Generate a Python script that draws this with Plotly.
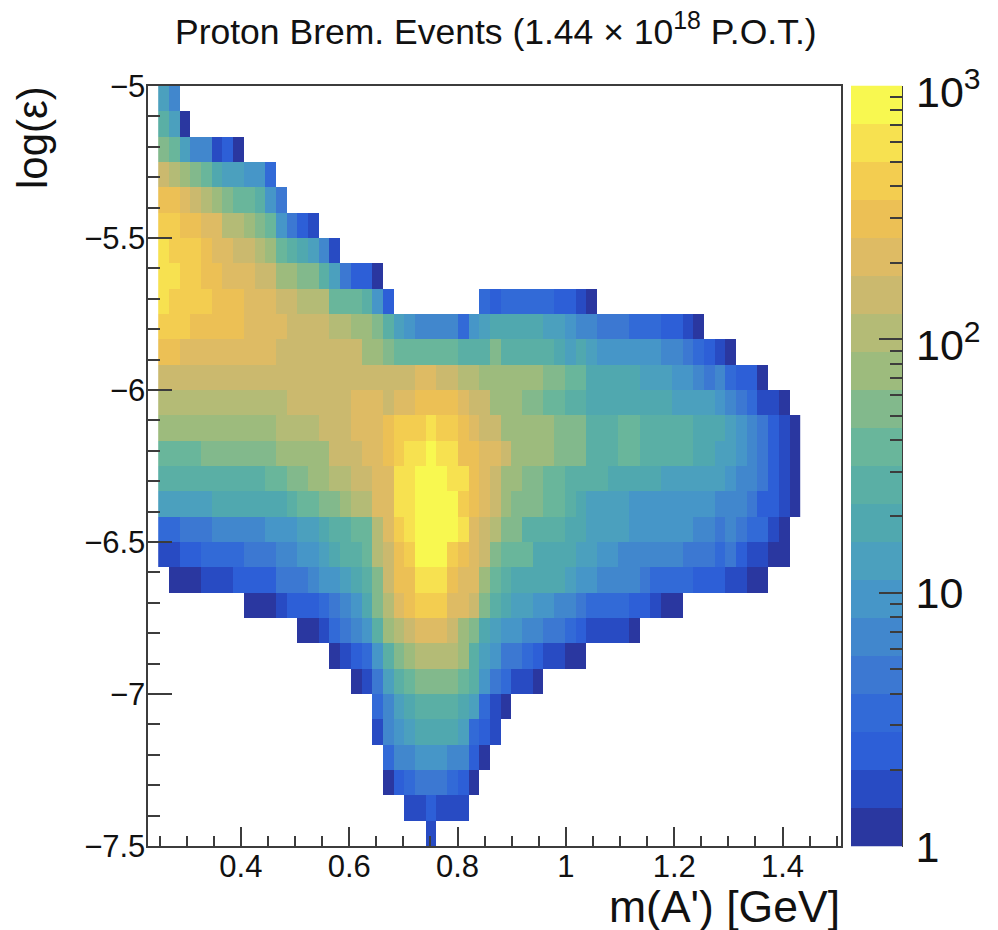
import plotly.graph_objects as go

# Colour band (0-19) of each histogram cell, top row first; each band = 0.15 decades of events
first_col = [1,1,1,1,1,1,1,1,1,1,1,1,1,1,1,1,1,1,1,2,9,14,17,19,21,21,22,22,24,26]
_ = None
row_00 = [7,5]
row_01 = [9,7,0]
row_02 = [11,10,7,5,5,1,2,0]
row_03 = [14,13,12,11,10,8,7,7,6,6,3]
row_04 = [16,16,15,14,13,12,11,10,10,9,6,4]
row_05 = [17,17,16,16,15,15,13,13,12,11,10,6,4,2,1]
row_06 = [18,17,17,17,16,15,15,14,14,13,12,10,9,8,7,5,1]
row_07 = [18,18,17,17,16,16,15,15,15,14,14,12,12,11,11,9,7,4,2,2,0]
row_08 = [18,17,17,17,17,16,16,16,15,15,15,14,14,13,13,13,10,10,10,9,6,2,_,_,_,_,_,_,_,_,3,2,3,3,3,3,3,2,2,1,0]
row_09 = [17,17,17,16,16,16,16,16,15,15,15,15,14,14,14,14,13,13,12,12,11,9,7,6,5,5,5,5,3,6,7,8,8,8,8,8,7,7,6,5,5,4,4,4,3,3,3,2,2,1,0]
row_10 = [16,16,15,15,15,15,15,15,15,15,15,14,14,14,14,14,14,14,14,12,12,11,10,10,10,10,10,10,9,9,9,11,9,9,9,9,9,8,7,8,7,6,6,6,6,6,6,5,5,4,3,2,1,0]
row_11 = [14,14,14,14,14,14,14,14,14,14,14,14,14,14,14,14,14,14,14,14,14,14,14,14,15,15,14,14,13,13,12,12,12,12,12,12,11,11,10,10,8,8,8,8,8,7,7,7,6,6,5,4,5,3,2,2,0]
row_12 = [13,13,13,13,13,13,13,13,13,13,13,13,14,14,14,14,14,14,15,15,15,14,15,15,16,16,16,16,15,14,14,12,12,12,11,11,10,10,9,9,8,8,8,8,8,8,8,8,7,7,7,7,6,5,4,3,1,1,0]
row_13 = [12,12,12,12,12,12,12,12,12,12,12,13,13,13,13,14,14,14,15,15,15,16,17,17,17,18,17,17,16,15,14,14,12,12,12,12,12,11,11,11,9,9,9,10,10,9,9,9,9,9,8,8,8,7,6,5,4,2,1,0]
row_14 = [10,10,10,10,11,11,11,11,11,11,11,12,12,12,12,12,14,14,14,15,15,16,17,18,18,19,18,18,16,16,15,15,14,12,12,12,12,11,11,11,9,9,9,10,10,9,9,9,9,9,8,8,7,7,6,5,4,2,1,0]
row_15 = [9,9,9,9,9,9,9,9,9,9,10,10,11,11,12,12,13,13,14,14,15,15,18,18,19,19,19,18,18,16,15,14,12,12,11,11,10,10,9,9,9,9,8,8,8,8,8,7,7,7,7,7,7,6,5,5,4,2,1,0]
row_16 = [7,7,7,7,7,8,8,8,8,8,8,8,9,10,10,11,11,12,13,13,15,15,18,18,19,19,19,19,17,16,15,14,12,11,11,11,10,10,9,8,7,7,7,7,6,6,6,6,6,6,6,6,5,5,5,4,2,2,1,0]
row_17 = [3,3,4,4,4,5,5,5,5,5,6,6,6,7,7,8,9,9,10,10,13,15,17,18,19,19,19,19,18,15,14,13,11,11,9,9,9,9,8,8,7,7,7,7,6,6,6,6,6,6,5,5,4,5,4,3,3,1,0]
row_18 = [1,1,2,2,3,3,3,3,4,4,4,5,5,6,6,7,8,9,9,10,13,14,16,17,19,19,19,17,16,15,14,11,10,10,10,8,8,8,8,7,7,6,6,5,5,5,5,5,5,4,4,4,3,4,2,1,1,0,0]
row_19 = [0,0,0,1,1,1,2,2,2,2,4,4,4,5,6,6,7,8,9,11,14,16,16,18,18,18,16,15,15,12,10,9,8,8,8,8,8,7,6,6,5,5,5,5,4,3,3,3,3,2,2,2,1,1,0,0]
row_20 = [0,0,0,1,2,2,2,3,4,5,6,8,11,13,15,16,17,17,17,15,15,14,11,9,8,7,7,6,6,5,5,4,3,3,3,3,2,2,1,0,0]
row_21 = [0,0,1,3,4,5,6,9,12,13,14,15,15,15,14,12,11,8,7,6,6,5,5,4,4,3,2,1,1,1,1,0]
row_22 = [0,1,2,3,6,9,11,12,13,13,13,13,12,9,7,6,4,4,3,2,1,1,0,0]
row_23 = [0,1,4,7,9,10,11,11,11,11,10,9,6,4,3,1,1,0]
row_24 = [3,5,7,8,9,9,9,9,8,7,3,1,0]
row_25 = [1,5,6,7,8,8,8,8,7,3,2,1]
row_26 = [3,5,5,6,6,6,5,5,2,0]
row_27 = [0,2,3,4,4,4,3,2,0]
row_28 = [1,1,2,1,1,1]
row_29 = [1]
rows = [row_00,row_01,row_02,row_03,row_04,row_05,row_06,row_07,row_08,row_09,
        row_10,row_11,row_12,row_13,row_14,row_15,row_16,row_17,row_18,row_19,
        row_20,row_21,row_22,row_23,row_24,row_25,row_26,row_27,row_28,row_29]

band_colors = [
 "#2a37a0","#284bc3","#2d5fd7","#326ad7","#3c78d2","#4187cd","#4696c8","#4ba0be",
 "#50a8af","#5aafa5","#69b69b","#82b98c","#9dbb7d","#b4bb76","#cbb96e","#deBb64",
 "#ecc055","#f3cd50","#f7e150","#f8f850"]

n_cols = 60
n_rows = 30
x_left, x_bin = 0.2473, 0.01975
y_top, y_bin = -5.0, 2.5/30
band_decades = 0.15

x_edges = [x_left + i*x_bin for i in range(n_cols+1)]
y_edges = [y_top - i*y_bin for i in range(n_rows+1)]

z = []
for start, row in zip(first_col, rows):
    cells = [None]*(start-1) + [None if b is None else (b+0.5)*band_decades for b in row]
    z.append(cells + [None]*(n_cols-len(cells)))

scale = []
for i, c in enumerate(band_colors):
    scale += [[i/20, c], [(i+1)/20, c]]

# The browser page adds an 8 px body margin around the figure
PAGE = 8
W, H = 998-PAGE, 930-PAGE
def fx(px): return (px-PAGE)/W
def fy(py): return 1-(py-PAGE)/H
AX = "#3c3c3c"
FONT = "Liberation Sans"

fig = go.Figure()
fig.add_trace(go.Heatmap(x=x_edges, y=y_edges, z=z, zmin=0, zmax=3, colorscale=scale,
                         showscale=False, hoverongaps=False, xaxis="x", yaxis="y"))
bar_edges = [i*band_decades for i in range(21)]
bar_z = [[(i+0.5)*band_decades] for i in range(20)]
fig.add_trace(go.Heatmap(x=[0,1], y=bar_edges, z=bar_z, zmin=0, zmax=3, colorscale=scale,
                         showscale=False, xaxis="x2", yaxis="y2"))

minor_decade = [0.30103,0.47712,0.60206,0.69897,0.77815,0.84510,0.90309,0.95424]
bar_minor = [k+m for k in range(3) for m in minor_decade]

fig.update_layout(
    width=W, height=H, autosize=False,
    margin=dict(l=0,r=0,t=0,b=0,autoexpand=False),
    paper_bgcolor="white", plot_bgcolor="white",
    font=dict(family=FONT, color="#111111"),
    xaxis=dict(domain=[fx(148.3), fx(841)], range=[0.229,1.508], anchor="y", automargin=False,
               tick0=0, dtick=0.2, ticks="inside", ticklen=19, tickwidth=1.5, tickcolor=AX,
               minor=dict(dtick=0.05, tick0=0, ticks="inside", ticklen=10, tickwidth=1.5, tickcolor=AX),
               showline=True, linecolor=AX, linewidth=1.5, mirror=True, showgrid=False, zeroline=False,
               tickfont=dict(size=31, family=FONT, color="#111111"), ticklabelstandoff=-8),
    yaxis=dict(domain=[fy(846), fy(86)], range=[-7.5,-5], anchor="x", automargin=False,
               tick0=-5, dtick=0.5, ticks="inside", ticklen=24, tickwidth=1.5, tickcolor=AX,
               minor=dict(dtick=0.1, tick0=-5, ticks="inside", ticklen=12, tickwidth=1.5, tickcolor=AX),
               showline=True, linecolor=AX, linewidth=1.5, mirror=True, showgrid=False, zeroline=False,
               tickfont=dict(size=31, family=FONT, color="#111111"), ticklabelstandoff=-5),
    xaxis2=dict(domain=[fx(851), fx(902)], range=[0,1], anchor="y2", visible=False, automargin=False),
    yaxis2=dict(domain=[fy(846.5), fy(85.5)], range=[0,3], anchor="x2", side="right", automargin=False,
                tickmode="array", tickvals=[0,1,2,3],
                ticktext=["1","10","",""],
                ticks="inside", ticklen=23, tickwidth=1.5, tickcolor=AX,
                minor=dict(tickmode="array", tickvals=bar_minor, ticks="inside", ticklen=12,
                           tickwidth=1.5, tickcolor=AX),
                showline=True, linecolor=AX, linewidth=1, showgrid=False, zeroline=False,
                tickfont=dict(size=43, family=FONT, color="#111111"), ticklabelstandoff=4),
    annotations=[
        dict(text="Proton Brem. Events (1.44 × 10<sup>18</sup> P.O.T.)", xref="paper", yref="paper",
             x=fx(496), y=fy(29), xanchor="center", yanchor="middle", showarrow=False,
             font=dict(size=35.5, family=FONT, color="#111111")),
        dict(text="m(A') [GeV]", xref="paper", yref="paper", x=fx(842), y=fy(906),
             xanchor="right", yanchor="middle", showarrow=False,
             font=dict(size=44.5, family=FONT, color="#111111")),
        dict(text="log(ε)", xref="paper", yref="paper", x=fx(33), y=fy(138), textangle=-90,
             xanchor="center", yanchor="middle", showarrow=False,
             font=dict(size=42, family=FONT, color="#111111")),
        dict(text="10<sup>2</sup>", xref="paper", yref="y2", x=fx(915), y=2, xanchor="left",
             yanchor="middle", yshift=-3, showarrow=False, borderpad=0,
             font=dict(size=43, family=FONT, color="#111111")),
        dict(text="10<sup>3</sup>", xref="paper", yref="y2", x=fx(915), y=3, xanchor="left",
             yanchor="middle", yshift=-3, showarrow=False, borderpad=0,
             font=dict(size=43, family=FONT, color="#111111")),
    ],
)
fig.write_html("out.html")
